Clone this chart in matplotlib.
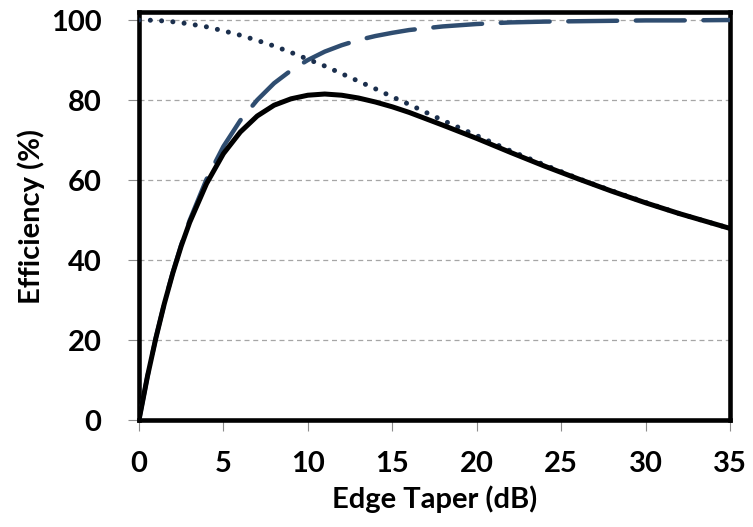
import numpy as np
import matplotlib.pyplot as plt

# edge taper (dB) and efficiencies (%)
taper_db = [0, 0.5, 1, 1.5, 2, 2.5, 3, 4, 5, 6, 7, 8, 9, 10, 11, 12, 13, 14,
            15, 16, 18, 20, 22, 24, 26, 28, 30, 32, 35]
spillover = [0.0, 10.9, 20.6, 29.2, 36.9, 43.8, 49.9, 60.2, 68.4, 74.9, 80.0,
             84.2, 87.4, 90.0, 92.1, 93.7, 95.0, 96.0, 96.8, 97.5, 98.4, 99.0,
             99.4, 99.6, 99.7, 99.8, 99.9, 99.9, 100.0]
taper_eff = [100.0, 99.97, 99.9, 99.75, 99.56, 99.3, 99.0, 98.3, 97.3, 96.2,
             94.9, 93.5, 91.9, 90.2, 88.5, 86.6, 84.7, 82.8, 80.8, 78.9, 74.9,
             71.1, 67.3, 63.8, 60.4, 57.3, 54.4, 51.6, 47.9]
aperture = [0.0, 10.9, 20.5, 29.1, 36.7, 43.5, 49.4, 59.1, 66.6, 72.0, 76.0,
            78.7, 80.3, 81.2, 81.5, 81.2, 80.5, 79.5, 78.3, 76.9, 73.7, 70.4,
            66.9, 63.5, 60.3, 57.2, 54.3, 51.6, 47.9]

plt.rcParams['font.family'] = ['Lato', 'DejaVu Sans']
plt.rcParams['font.weight'] = 'bold'

fig = plt.figure(figsize=(7.53, 5.27), dpi=100)
ax = fig.add_axes([0.1846, 0.2030, 0.9695 - 0.1846, 0.9772 - 0.2030])

ax.yaxis.grid(True, color='#a6a6a6', linestyle=(0, (4, 3)), linewidth=0.9)
ax.set_axisbelow(True)

ax.plot(taper_db, spillover, color='#2f4d70', linewidth=3.2,
        linestyle=(0, (11, 4.2)), dash_capstyle='round', zorder=3)
ax.plot(taper_db, taper_eff, color='#1b2f4d', linewidth=3.6,
        linestyle=(0, (0.01, 2.25)), dash_capstyle='round', zorder=4)
ax.plot(taper_db, aperture, color='black', linewidth=3.6,
        solid_capstyle='round', zorder=5)

ax.set_xlim(0, 35)
ax.set_ylim(0, 102)
ax.set_xticks(range(0, 36, 5))
ax.set_yticks(range(0, 101, 20))

for s in ax.spines.values():
    s.set_linewidth(3.3)
    s.set_color('black')

ax.tick_params(axis='both', direction='out', length=8, width=0.8,
               color='#8c8c8c', labelsize=21)
ax.tick_params(axis='y', pad=19)
ax.tick_params(axis='x', pad=14)

ax.set_xlabel('Edge Taper (dB)', fontsize=21, fontweight='bold', labelpad=6)
ax.set_ylabel('Efficiency (%)', fontsize=21, fontweight='bold', labelpad=4)

fig.savefig('out.png', dpi=100)
